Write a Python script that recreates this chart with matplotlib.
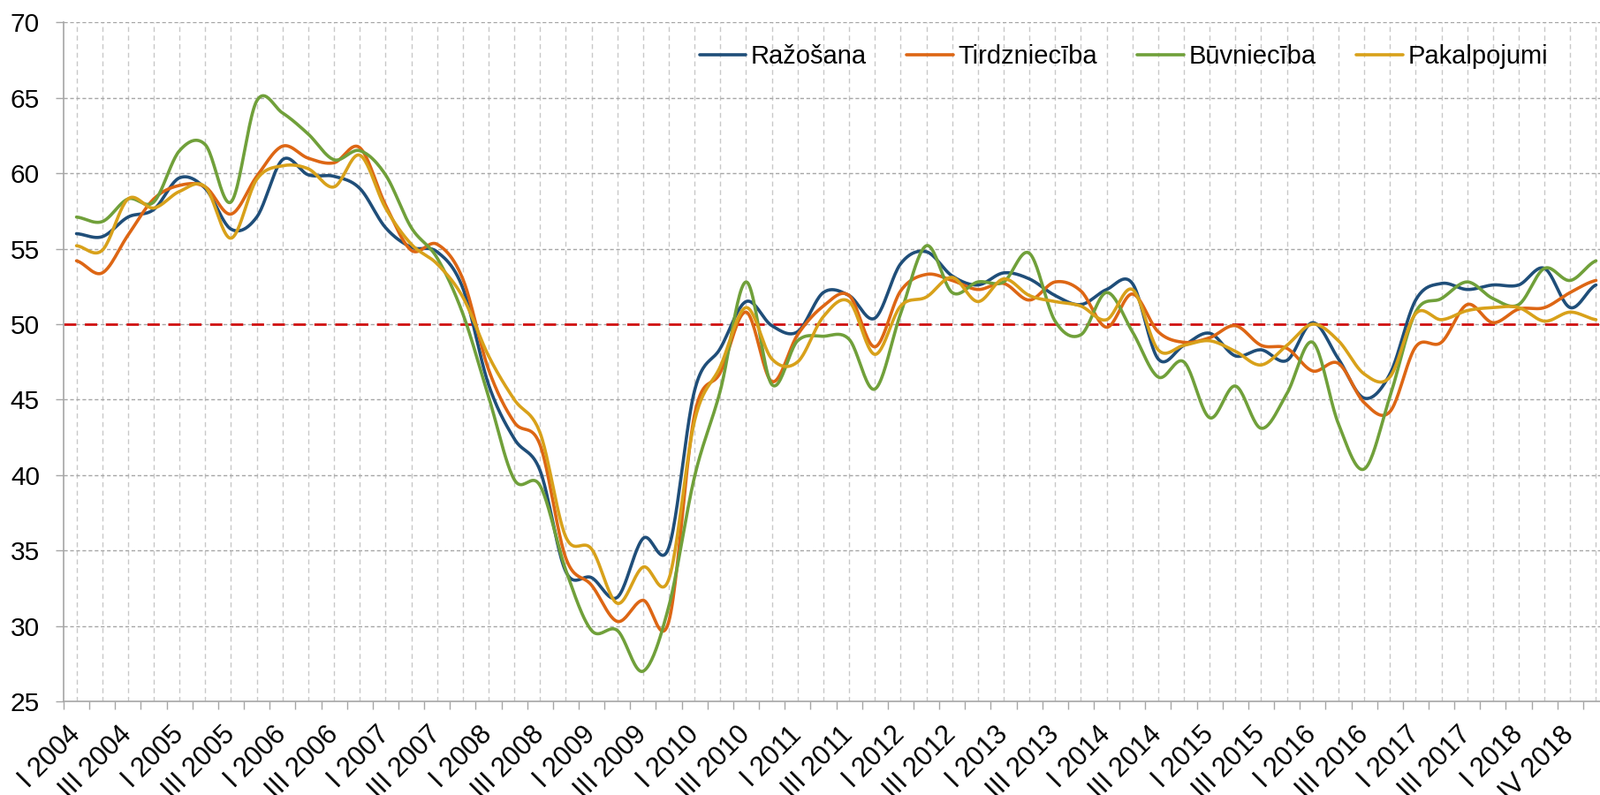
import numpy as np
import matplotlib
matplotlib.use("Agg")
import matplotlib.pyplot as plt


# ==========================================================
# DATOS
# ==========================================================

etiquetas = [
    "I 2004", "III 2004", "I 2005", "III 2005", "I 2006", "III 2006",
    "I 2007", "III 2007", "I 2008", "III 2008", "I 2009", "III 2009",
    "I 2010", "III 2010", "I 2011", "III 2011", "I 2012", "III 2012",
    "I 2013", "III 2013", "I 2014", "III 2014", "I 2015", "III 2015",
    "I 2016", "III 2016", "I 2017", "III 2017", "I 2018", "IV 2018"
]

razosana = [
    56.0, 55.8, 57.1, 57.6, 59.7, 59.0, 56.3, 57.1, 60.9, 59.9,
    59.8, 59.0, 56.4, 55.1, 54.8, 52.4, 46.0, 42.4, 40.3, 33.6,
    33.2, 31.9, 35.8, 35.2, 45.6, 48.4, 51.5, 49.9, 49.5, 52.1,
    51.9, 50.4, 54.0, 54.8, 53.2, 52.6, 53.4, 53.0, 51.9, 51.3,
    52.3, 52.7, 47.7, 48.6, 49.4, 47.9, 48.3, 47.6, 50.1, 47.7,
    45.1, 46.7, 51.6, 52.7, 52.3, 52.6, 52.6, 53.7, 51.1, 52.6
]

tirdznieciba = [
    54.2, 53.4, 55.9, 58.3, 59.2, 59.1, 57.3, 59.8, 61.8, 61.0,
    60.7, 61.7, 57.9, 54.9, 55.3, 53.0, 47.0, 43.5, 42.0, 34.5,
    32.7, 30.3, 31.7, 30.3, 44.0, 46.8, 50.8, 46.2, 49.3, 51.2,
    51.9, 48.5, 52.2, 53.3, 52.9, 52.3, 52.7, 51.6, 52.8, 52.2,
    49.8, 52.0, 49.5, 48.8, 49.1, 49.9, 48.6, 48.4, 46.9, 47.4,
    44.8, 44.2, 48.5, 48.8, 51.3, 50.1, 51.0, 51.1, 52.1, 52.9
]

buvnieciba = [
    57.1, 56.8, 58.3, 58.1, 61.5, 61.9, 58.1, 64.8, 64.0, 62.6,
    60.9, 61.5, 59.9, 56.4, 54.4, 50.7, 45.2, 39.7, 39.3, 33.7,
    29.7, 29.7, 27.0, 31.3, 39.9, 45.6, 52.8, 46.0, 48.9, 49.2,
    49.0, 45.7, 50.7, 55.2, 52.1, 52.8, 52.8, 54.7, 50.2, 49.3,
    52.1, 49.5, 46.5, 47.5, 43.8, 45.9, 43.1, 45.4, 48.8, 43.4,
    40.4, 45.2, 50.8, 51.7, 52.8, 51.7, 51.3, 53.7, 52.9, 54.2
]

pakalpojumi = [
    55.2, 54.9, 58.3, 57.7, 58.8, 59.1, 55.7, 59.6, 60.5, 60.3,
    59.1, 61.2, 57.7, 55.3, 54.0, 51.8, 47.9, 45.0, 42.8, 35.9,
    35.1, 31.5, 33.9, 33.1, 43.6, 47.2, 51.1, 47.7, 47.5, 50.5,
    51.5, 48.0, 51.2, 51.8, 53.1, 51.5, 53.0, 51.9, 51.5, 51.2,
    50.3, 52.3, 48.3, 48.6, 48.9, 48.2, 47.3, 48.6, 50.0, 48.9,
    46.7, 46.5, 50.7, 50.3, 50.9, 51.1, 51.1, 50.2, 50.8, 50.3
]

series = [
    ("Ražošana", razosana, "#1F4E79"),
    ("Tirdzniecība", tirdznieciba, "#DD6614"),
    ("Būvniecība", buvnieciba, "#70A03A"),
    ("Pakalpojumi", pakalpojumi, "#D8A11A"),
]


##############################################
# Curva suavizada (como "smoothed line" de Excel)
##############################################
def suavizar(y, pasos=24):

    y = np.asarray(y, dtype=float)
    n = len(y)
    p = np.concatenate(([y[0]], y, [y[-1]]))

    xs = []
    ys = []

    for i in range(n - 1):

        p0, p1, p2, p3 = p[i], p[i + 1], p[i + 2], p[i + 3]
        t = np.linspace(0, 1, pasos, endpoint=False)

        c1 = p1 + (p2 - p0) / 6
        c2 = p2 - (p3 - p1) / 6

        yy = ((1 - t) ** 3 * p1 + 3 * (1 - t) ** 2 * t * c1
              + 3 * (1 - t) * t ** 2 * c2 + t ** 3 * p2)

        xs.extend(i + t)
        ys.extend(yy)

    xs.append(n - 1)
    ys.append(y[-1])

    return np.array(xs), np.array(ys)


# ==========================================================
# GRAFICO
# ==========================================================

plt.rcParams["font.family"] = ["Liberation Sans", "DejaVu Sans"]

n = len(razosana)
ancho_px = 1811
alto_px = 900

fig = plt.figure(figsize=(ancho_px / 100, alto_px / 100), dpi=100)

izq = 72 / ancho_px
der = (72 + n * 29.15) / ancho_px
abajo = (alto_px - 794) / alto_px
arriba = (alto_px - 25.4) / alto_px

ax = fig.add_axes([izq, abajo, der - izq, arriba - abajo])

ax.set_xlim(-0.5, n - 0.5)
ax.set_ylim(25, 70)

# cuadricula vertical en cada trimestre
for i in range(n):
    ax.axvline(i, color="#C8C8C8", lw=1, ls=(0, (4, 3)), zorder=1)

# cuadricula horizontal
for v in range(30, 71, 5):
    ax.axhline(v, color="#A6A6A6", lw=1, ls=(0, (3, 2)), zorder=1)

# linea de referencia 50
ax.axhline(50, color="#D01010", lw=2, ls=(0, (5, 3.5)), zorder=2)

for nombre, valores, color in series:

    xs, ys = suavizar(valores)

    ax.plot(xs, ys, color=color, lw=2.6, label=nombre,
            solid_capstyle="round", zorder=3)

# ejes
for lado in ["top", "right"]:
    ax.spines[lado].set_visible(False)

ax.spines["left"].set_color("#A6A6A6")
ax.spines["bottom"].set_color("#A6A6A6")
ax.spines["left"].set_linewidth(1.2)
ax.spines["bottom"].set_linewidth(1.2)

ax.set_yticks(range(25, 71, 5))
ax.tick_params(axis="y", length=6.5, width=1, color="#A6A6A6",
               pad=13, labelsize=21.5)

ax.set_xticks(range(0, n, 2))
ax.set_xticklabels(etiquetas, rotation=45, ha="right", va="center",
                   rotation_mode="anchor")
ax.set_xticks(np.arange(-0.5, n, 1), minor=True)
ax.tick_params(axis="x", which="major", length=0, pad=24, labelsize=22)
ax.tick_params(axis="x", which="minor", length=6.5, width=1,
               color="#A6A6A6")

ax.legend(loc="center", bbox_to_anchor=(0.686, 0.950), ncol=4,
          frameon=False, fontsize=21, handlelength=1.8,
          handletextpad=0.2, columnspacing=1.55, borderpad=0)

fig.savefig("out.png", dpi=100)
